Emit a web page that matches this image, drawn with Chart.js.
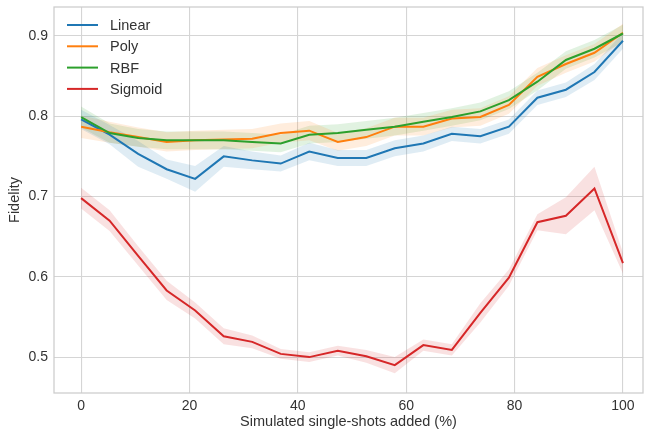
<!DOCTYPE html>
<html lang="en">
<head>
  <meta charset="UTF-8">
  <title>Fidelity vs simulated single-shots</title>
  <script src="https://cdn.jsdelivr.net/npm/chart.js"></script>
  <style>
    body { margin: 0; background: #fff; }
    canvas { display: block; }
  </style>
</head>
<body>

  <canvas id="graph" width="645" height="433"></canvas>

  <script>
    // percentage of simulated single-shots added
    const added = [0, 5.26, 10.53, 15.79, 21.05, 26.32, 31.58, 36.84, 42.11, 47.37,
                   52.63, 57.89, 63.16, 68.42, 73.68, 78.95, 84.21, 89.47, 94.74, 100];

    // mean fidelity per kernel
    const linear  = [0.796, 0.777, 0.753, 0.734, 0.722, 0.750, 0.745, 0.741, 0.756, 0.748,
                     0.748, 0.760, 0.766, 0.778, 0.775, 0.787, 0.823, 0.833, 0.855, 0.894];
    const poly    = [0.787, 0.780, 0.774, 0.768, 0.770, 0.771, 0.772, 0.779, 0.782, 0.768,
                     0.774, 0.787, 0.787, 0.797, 0.799, 0.814, 0.849, 0.865, 0.879, 0.904];
    const rbf     = [0.799, 0.779, 0.773, 0.770, 0.770, 0.770, 0.768, 0.766, 0.777, 0.779,
                     0.783, 0.787, 0.793, 0.799, 0.806, 0.820, 0.843, 0.870, 0.884, 0.903];
    const sigmoid = [0.698, 0.670, 0.626, 0.583, 0.558, 0.526, 0.519, 0.504, 0.500, 0.508,
                     0.501, 0.490, 0.515, 0.509, 0.555, 0.599, 0.668, 0.676, 0.710, 0.617];

    // half-width of the confidence band
    const linearErr  = [0.012, 0.012, 0.016, 0.012, 0.016, 0.013, 0.011, 0.010, 0.011, 0.010,
                        0.010, 0.010, 0.010, 0.009, 0.009, 0.009, 0.009, 0.009, 0.010, 0.010];
    const polyErr    = [0.014, 0.013, 0.012, 0.012, 0.012, 0.012, 0.012, 0.012, 0.012, 0.011,
                        0.011, 0.011, 0.011, 0.011, 0.011, 0.011, 0.011, 0.011, 0.011, 0.011];
    const rbfErr     = [0.013, 0.012, 0.011, 0.011, 0.011, 0.011, 0.011, 0.011, 0.011, 0.011,
                        0.011, 0.011, 0.011, 0.011, 0.011, 0.011, 0.011, 0.011, 0.011, 0.011];
    const sigmoidErr = [0.013, 0.013, 0.012, 0.012, 0.010, 0.010, 0.008, 0.006, 0.006, 0.006,
                        0.008, 0.010, 0.007, 0.007, 0.012, 0.010, 0.010, 0.023, 0.027, 0.013];

    const xTicks = [0, 20, 40, 60, 80, 100];
    const yTicks = [0.5, 0.6, 0.7, 0.8, 0.9];

    const series = [
      { name: 'Linear',  mean: linear,  err: linearErr,  color: '31,119,180' },
      { name: 'Poly',    mean: poly,    err: polyErr,    color: '255,127,14' },
      { name: 'RBF',     mean: rbf,     err: rbfErr,     color: '44,160,44' },
      { name: 'Sigmoid', mean: sigmoid, err: sigmoidErr, color: '214,39,40' }
    ];

    const FONT = "'Liberation Sans', Arial, sans-serif";
    const TEXT = '#333333';
    const pts = arr => arr.map((v, i) => ({ x: added[i], y: v }));

    // bands first (lower edge + upper edge filled to it), lines on top
    const datasets = [];
    series.forEach(s => {
      datasets.push({
        label: s.name + ' lo',
        data: pts(s.mean.map((v, i) => v - s.err[i])),
        borderWidth: 0, pointRadius: 0, fill: false, order: 10
      });
      datasets.push({
        label: s.name + ' hi',
        data: pts(s.mean.map((v, i) => v + s.err[i])),
        borderWidth: 0, pointRadius: 0,
        fill: '-1', backgroundColor: `rgba(${s.color},0.14)`, order: 10
      });
    });
    series.forEach((s, k) => {
      datasets.push({
        label: s.name,
        data: pts(s.mean),
        borderColor: `rgb(${s.color})`,
        borderWidth: 2,
        pointRadius: 0,
        fill: false,
        tension: 0,
        order: 4 - k
      });
    });

    // frame around the plot area plus the legend in its top-left corner
    const framePlugin = {
      id: 'frameAndLegend',
      afterDraw(chart) {
        const { ctx, chartArea: a } = chart;
        ctx.save();
        ctx.strokeStyle = '#cccccc';
        ctx.lineWidth = 1.25;
        ctx.strokeRect(a.left, a.top, a.right - a.left, a.bottom - a.top);

        ctx.font = '14.5px ' + FONT;
        ctx.textBaseline = 'middle';
        series.forEach((s, i) => {
          const y = 25 + i * 21.3;
          ctx.strokeStyle = `rgb(${s.color})`;
          ctx.lineWidth = 2;
          ctx.beginPath();
          ctx.moveTo(67, y);
          ctx.lineTo(98, y);
          ctx.stroke();
          ctx.fillStyle = TEXT;
          ctx.fillText(s.name, 110, y + 1);
        });
        ctx.restore();
      }
    };

    new Chart(document.getElementById('graph').getContext('2d'), {
      type: 'line',
      data: { datasets },
      options: {
        responsive: false,
        animation: false,
        layout: { padding: { top: 7, right: 2, left: 0, bottom: 0 } },
        plugins: {
          legend: { display: false },
          tooltip: { enabled: false }
        },
        scales: {
          x: {
            type: 'linear',
            min: -5,
            max: 103.7,
            afterBuildTicks: s => { s.ticks = xTicks.map(v => ({ value: v })); },
            afterFit: s => { s.height = 40; s.paddingLeft = 0; s.paddingRight = 0; },
            grid: { color: '#d5d5d5', lineWidth: 1.1, drawTicks: false },
            border: { display: false },
            ticks: { color: TEXT, font: { family: FONT, size: 14 }, padding: 5 },
            title: { display: true, text: 'Simulated single-shots added (%)',
                     color: TEXT, font: { family: FONT, size: 14.5 },
                     padding: { top: 0, bottom: 2 } }
          },
          y: {
            min: 0.4553,
            max: 0.936,
            afterBuildTicks: s => { s.ticks = yTicks.map(v => ({ value: v })); },
            afterFit: s => { s.width = 54; s.paddingTop = 0; s.paddingBottom = 0; },
            grid: { color: '#d5d5d5', lineWidth: 1.1, drawTicks: false },
            border: { display: false },
            ticks: { color: TEXT, font: { family: FONT, size: 14 }, padding: 6,
                     callback: v => v.toFixed(1) },
            title: { display: true, text: 'Fidelity',
                     color: TEXT, font: { family: FONT, size: 14.5 },
                     padding: { top: 6, bottom: 0 } }
          }
        }
      },
      plugins: [framePlugin]
    });
  </script>

</body>
</html>
